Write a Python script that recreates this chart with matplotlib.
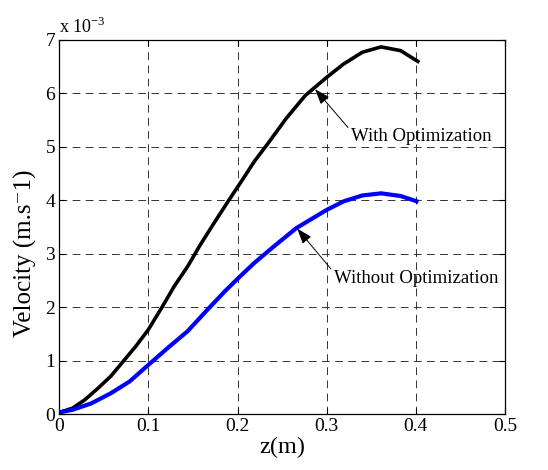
import matplotlib
matplotlib.use('Agg')
import matplotlib.pyplot as plt

# velocity values read in units of 1e-3 m/s
z_with = [0.0, 0.015, 0.029, 0.044, 0.058, 0.072, 0.086, 0.1, 0.115, 0.129,
          0.144, 0.158, 0.172, 0.191, 0.205, 0.219, 0.234, 0.255, 0.276,
          0.3, 0.319, 0.34, 0.361, 0.383, 0.404]
v_with = [0.03, 0.11, 0.27, 0.49, 0.71, 0.99, 1.27, 1.58, 1.99, 2.39,
          2.76, 3.16, 3.53, 4.02, 4.37, 4.73, 5.06, 5.54, 5.96,
          6.30, 6.55, 6.77, 6.87, 6.80, 6.58]

z_without = [0.0, 0.015, 0.036, 0.058, 0.079, 0.1, 0.122, 0.144, 0.165,
             0.186, 0.2, 0.219, 0.241, 0.266, 0.3, 0.319, 0.34, 0.361,
             0.383, 0.403]
v_without = [0.03, 0.08, 0.2, 0.39, 0.61, 0.92, 1.24, 1.55, 1.93,
             2.30, 2.53, 2.83, 3.14, 3.48, 3.82, 3.98, 4.09, 4.13,
             4.08, 3.97]

plt.rcParams.update({
    'font.family': ['Liberation Serif', 'DejaVu Serif'],
    'mathtext.fontset': 'custom',
    'mathtext.rm': 'Liberation Serif',
    'xtick.direction': 'in',
    'ytick.direction': 'in',
    'xtick.top': True,
    'ytick.right': True,
})

fig = plt.figure(figsize=(5.48, 4.70), dpi=100)
ax = fig.add_axes([0.108, 0.119, 0.8135, 0.796])

ax.plot(z_with, v_with, color='black', lw=2.6, solid_capstyle='butt')
ax.plot(z_without, v_without, color='#0000ff', lw=3.0, solid_capstyle='butt')

ax.set_xlim(0, 0.5)
ax.set_ylim(0, 7)
ax.set_xticks([0, 0.1, 0.2, 0.3, 0.4, 0.5])
ax.set_xticklabels(['0', '0.1', '0.2', '0.3', '0.4', '0.5'])
ax.set_yticks(range(8))
ax.tick_params(labelsize=14, length=4, width=0.8, pad=3)
for s in ax.spines.values():
    s.set_linewidth(0.9)

ax.grid(True, color='#333333', linestyle=(0, (8, 5.5)), linewidth=0.7)

ax.set_xlabel('z(m)', fontsize=17.5, labelpad=1)
ax.set_ylabel('Velocity (m.s\u207b1)', fontsize=18)
ax.yaxis.set_label_coords(-0.05, 0.43)
ax.text(0.0, 1.008, 'x 10$^{-3}$', transform=ax.transAxes, fontsize=13,
        ha='left', va='bottom')

arrow = dict(arrowstyle='-|>,head_length=0.7,head_width=0.25', color='black',
             lw=0.7, shrinkA=0, shrinkB=0)
ax.annotate('With Optimization', xy=(0.287, 6.08), xytext=(0.327, 5.19),
            fontsize=13.5, ha='left', va='center',
            arrowprops=dict(arrow, relpos=(0.0, 0.85)))
ax.annotate('Without Optimization', xy=(0.267, 3.47), xytext=(0.308, 2.54),
            fontsize=13.5, ha='left', va='center',
            arrowprops=dict(arrow, relpos=(0.0, 0.85)))

fig.savefig('out.png', dpi=100)
